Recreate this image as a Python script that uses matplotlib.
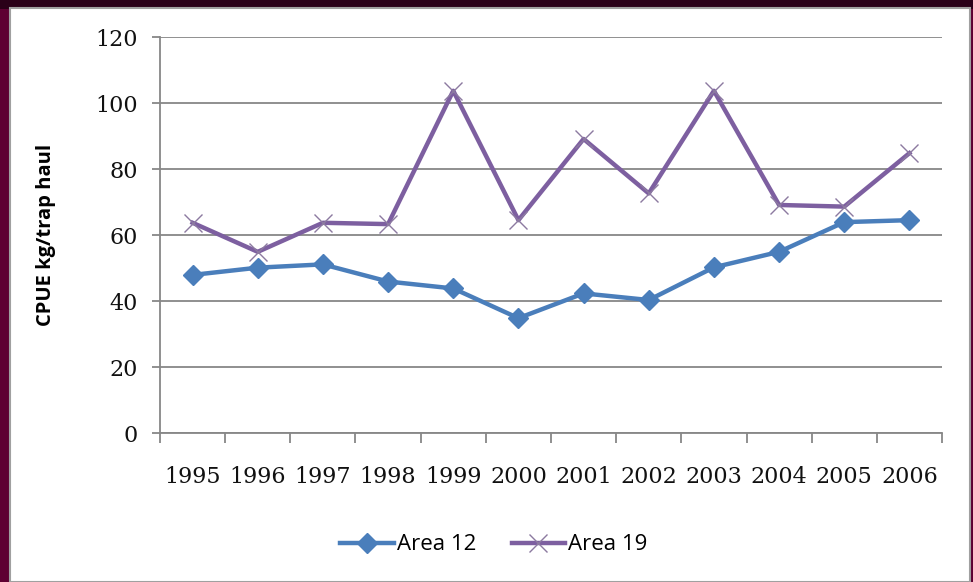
import numpy as np
import matplotlib.pyplot as plt
from matplotlib.patches import Rectangle

years = ['1995', '1996', '1997', '1998', '1999', '2000',
         '2001', '2002', '2003', '2004', '2005', '2006']
area12 = [47.9, 50.1, 51.1, 45.9, 43.8, 34.8, 42.3, 40.3, 50.2, 54.9, 63.9, 64.5]
area19 = [63.7, 54.9, 63.7, 63.3, 103.7, 64.5, 89.1, 72.6, 103.7, 69.1, 68.6, 84.8]

fig = plt.figure(figsize=(9.73, 5.82), dpi=100)
fig.patch.set_facecolor('#5e0032')

# dark band at the top of the slide background
fig.patches.append(Rectangle((0, 0.985), 1, 0.015, transform=fig.transFigure,
                             facecolor='#2a0018', edgecolor='none', zorder=-2))
# white chart panel
fig.patches.append(Rectangle((10 / 973, 0), 960 / 973, 1 - 8 / 582,
                             transform=fig.transFigure, facecolor='white',
                             edgecolor='#a0a0a0', linewidth=1.5, zorder=-1))

ax = fig.add_axes([160 / 973, 1 - 433 / 582, 782 / 973, 396 / 582])
ax.set_facecolor('none')

x = np.arange(len(years))
ax.plot(x, area12, color='#4a7ebb', linewidth=3.2, marker='D', markersize=10,
        markerfacecolor='#4a7ebb', markeredgecolor='#4a7ebb', label='Area 12',
        zorder=4)
ax.plot(x, area19, color='#7d5fa0', linewidth=3.2, marker='x', markersize=13,
        markeredgewidth=1, markeredgecolor='#8c7aa0', label='Area 19', zorder=3)

ax.set_xlim(-0.5, len(years) - 0.5)
ax.set_ylim(0, 120)
ax.set_yticks(range(0, 121, 20))
ax.grid(axis='y', color='#878787', linewidth=1.3)
ax.set_axisbelow(True)

tick_font = {'family': 'DejaVu Serif', 'size': 16, 'color': '#111111'}

# category boundaries carry tick marks, labels sit at the centres
ax.set_xticks(np.arange(-0.5, len(years), 1))
ax.set_xticklabels([])
ax.set_xticks(x, minor=True)
ax.set_xticklabels(years, minor=True, fontdict=tick_font)
ax.tick_params(axis='x', which='major', length=7, color='#878787', width=1.3)
ax.tick_params(axis='x', which='minor', length=0, pad=24)
ax.tick_params(axis='y', length=6, color='#878787', width=1.3, pad=10)
ax.set_yticklabels([str(v) for v in range(0, 121, 20)], fontdict=tick_font)

for side in ['top', 'right']:
    ax.spines[side].set_visible(False)
for side in ['left', 'bottom']:
    ax.spines[side].set_color('#878787')
    ax.spines[side].set_linewidth(1.3)

ax.set_ylabel('CPUE kg/trap haul', fontsize=14.5, fontweight='bold',
              family='Open Sans', labelpad=28)

fig.legend(loc='center', bbox_to_anchor=(494 / 973, 1 - 545 / 582), ncol=2,
           frameon=False, handlelength=2.4, columnspacing=1.6,
           handletextpad=0.15, prop={'family': 'Open Sans', 'size': 16})

fig.savefig('out.png', dpi=100, facecolor=fig.get_facecolor())
